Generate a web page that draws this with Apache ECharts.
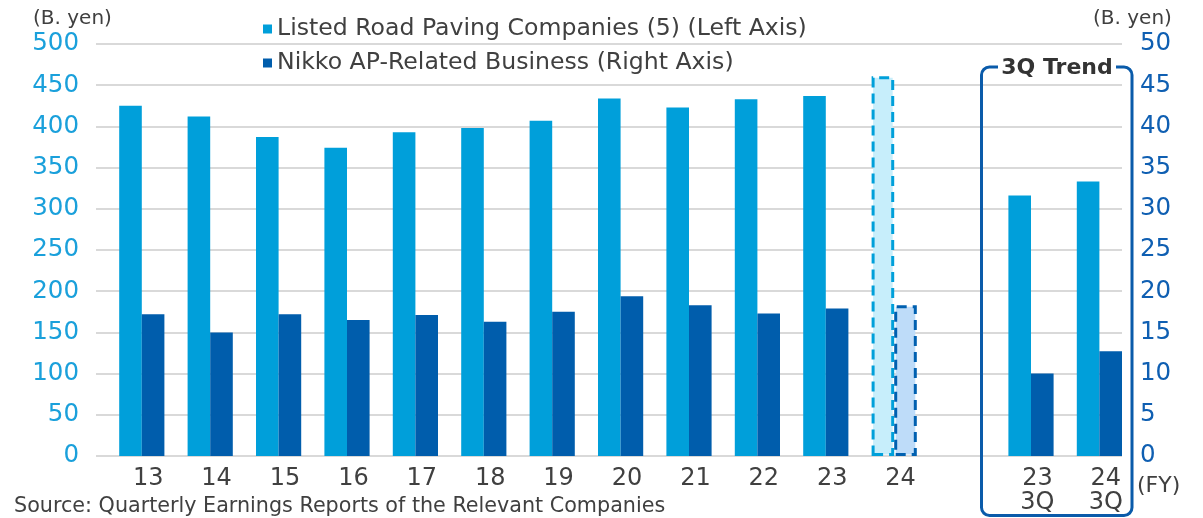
<!DOCTYPE html>
<html>
<head>
<meta charset="utf-8">
<script src="https://cdn.jsdelivr.net/npm/echarts@6/dist/echarts.min.js"></script>
<style>
  html, body { margin: 0; padding: 0; background: #fff; }
  #main { width: 1203px; height: 518px; }
</style>
</head>
<body>
<div id="main"></div>
<script>
// 年度 (FY) + 3Q 比較
const categories = ['13', '14', '15', '16', '17', '18', '19', '20', '21', '22', '23', '24', '', '23\n3Q', '24\n3Q'];
// 道路舗装上場5社 (左軸, 十億円)
const pavingValues = [425, 412, 387, 374, 393, 398, 407, 434, 423, 433, 437, 461, '-', 316, 333];
// Nikko AP関連 (右軸, 十億円)
const nikkoValues = [17.2, 15.0, 17.2, 16.5, 17.1, 16.3, 17.5, 19.4, 18.3, 17.3, 17.9, 18.3, '-', 10.0, 12.7];
const forecastIndex = 11; // FY24 予想 -> 点線
const leftTicks = [0, 500, 50];
const rightTicks = [0, 50, 5];

const FONT = 'DejaVu Sans';
const TEXT = '#404040';
const LIGHT = '#009fda';
const DARK = '#005dac';

const withForecast = (values, fill, border) => values.map((v, i) => {
  if (i !== forecastIndex) return v;
  return {
    value: v,
    itemStyle: { color: fill, borderColor: border, borderWidth: 3, borderType: [10, 6] }
  };
});

const myChart = echarts.init(document.getElementById('main'));

const option = {
  animation: false,
  textStyle: { fontFamily: FONT },
  grid: { left: 96, right: 81, top: 44, bottom: 62 },
  legend: {
    data: ['Listed Road Paving Companies (5) (Left Axis)', 'Nikko AP-Related Business (Right Axis)'],
    orient: 'vertical',
    left: 258,
    top: 12,
    itemWidth: 9,
    itemHeight: 9,
    itemGap: 10,
    icon: 'rect',
    textStyle: { fontFamily: FONT, fontSize: 23.6, color: TEXT, lineHeight: 23 }
  },
  xAxis: {
    type: 'category',
    data: categories,
    axisLine: { show: false },
    axisTick: { show: false },
    axisLabel: {
      interval: 0,
      margin: 11,
      fontSize: 24,
      lineHeight: 24,
      color: TEXT,
      fontFamily: FONT,
      padding: [0, 0, 0, 36]
    }
  },
  yAxis: [
    {
      type: 'value',
      min: leftTicks[0],
      max: leftTicks[1],
      interval: leftTicks[2],
      axisLine: { show: false },
      axisTick: { show: false },
      axisLabel: { fontSize: 24.5, color: '#1aa0db', margin: 17, fontFamily: FONT },
      splitLine: { lineStyle: { color: '#d9d9d9', width: 2 } }
    },
    {
      type: 'value',
      min: rightTicks[0],
      max: rightTicks[1],
      interval: rightTicks[2],
      axisLine: { show: false },
      axisTick: { show: false },
      axisLabel: { fontSize: 24.5, color: '#0f5fb2', margin: 18, fontFamily: FONT },
      splitLine: { show: false }
    }
  ],
  series: [
    {
      // 空の系列: 棒の位置を右にずらすため
      name: 'spacer',
      type: 'bar',
      barWidth: 23.2,
      barGap: '0%',
      silent: true,
      data: []
    },
    {
      name: 'Listed Road Paving Companies (5) (Left Axis)',
      type: 'bar',
      yAxisIndex: 0,
      barWidth: 22.6,
      barGap: '0%',
      itemStyle: { color: LIGHT },
      data: withForecast(pavingValues, '#c7eefb', '#00a0da')
    },
    {
      name: 'Nikko AP-Related Business (Right Axis)',
      type: 'bar',
      yAxisIndex: 1,
      barWidth: 22.6,
      barGap: '0%',
      itemStyle: { color: DARK },
      data: withForecast(nikkoValues, '#bedcf9', '#0060b0')
    }
  ],
  graphic: [
    { type: 'text', left: 33, top: 9, style: { text: '(B. yen)', font: '20px "DejaVu Sans"', fill: TEXT } },
    { type: 'text', left: 1093, top: 9, style: { text: '(B. yen)', font: '20px "DejaVu Sans"', fill: TEXT } },
    { type: 'text', left: 1137, top: 475, style: { text: '(FY)', font: '22px "DejaVu Sans"', fill: TEXT } },
    { type: 'text', left: 14, top: 496, style: { text: 'Source: Quarterly Earnings Reports of the Relevant Companies', font: '20.7px "DejaVu Sans"', fill: TEXT } },
    {
      type: 'rect',
      shape: { x: 981.5, y: 67, width: 150.5, height: 448.5, r: 8 },
      style: { fill: 'none', stroke: '#0a5baa', lineWidth: 3 },
      z: 100
    },
    {
      type: 'rect',
      shape: { x: 998, y: 56, width: 118, height: 24 },
      style: { fill: '#fff' },
      z: 101
    },
    {
      type: 'text',
      x: 1057,
      y: 68,
      style: { text: '3Q Trend', font: 'bold 22px "DejaVu Sans"', fill: '#333', align: 'center', verticalAlign: 'middle' },
      z: 102
    }
  ]
};

myChart.setOption(option);
</script>
</body>
</html>
